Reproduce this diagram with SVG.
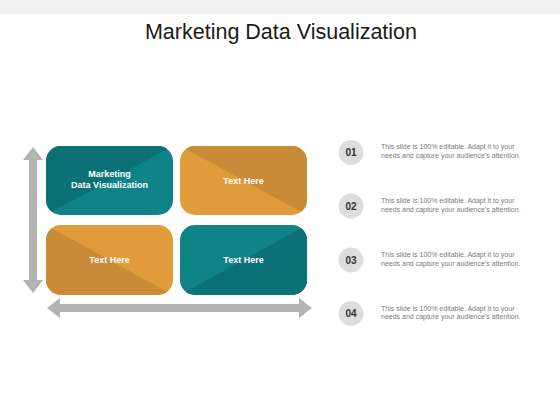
<svg xmlns="http://www.w3.org/2000/svg" width="560" height="420" viewBox="0 0 560 420">
<style>
.title{font-family:"Liberation Sans",Arial,sans-serif;font-size:21.5px;fill:#1a1a1a;text-anchor:middle}
.lbl{font-family:"Liberation Sans",Arial,sans-serif;font-size:9px;font-weight:bold;fill:#ffffff;text-anchor:middle}
.num{font-family:"Liberation Sans",Arial,sans-serif;font-size:10px;font-weight:bold;fill:#333333;text-anchor:middle}
.desc{font-family:"Liberation Sans",Arial,sans-serif;font-size:7px;fill:#7a7a7a}
.circ{fill:#dddddd}
.arrow{fill:#b3b3b3}
</style>
<defs>
<clipPath id="c1"><rect x="46" y="146" width="127" height="69" rx="15"/></clipPath>
<clipPath id="c2"><rect x="180" y="146" width="127" height="69" rx="15"/></clipPath>
<clipPath id="c3"><rect x="46" y="225" width="127" height="70" rx="15"/></clipPath>
<clipPath id="c4"><rect x="180" y="225" width="127" height="70" rx="15"/></clipPath>
</defs>
<rect x="0" y="0" width="560" height="14" fill="#f0f0f0"/>
<text class="title" x="281" y="39">Marketing Data Visualization</text>
<g id="connectors">
<polygon class="arrow" points="33,147 43,160 37,160 37,280 43,280 33,293 23,280 29,280 29,160 23,160"/>
<polygon class="arrow" points="47,308 60,298 60,304 299,304 299,298 312,308 299,318 299,312 60,312 60,318"/>
</g>
<g id="node1">
<g clip-path="url(#c1)">
<rect x="46" y="146" width="127" height="69" fill="#0f8388"/>
<polygon points="46,146 173,146 46,215" fill="#0b7177"/>
</g>
<text class="lbl" x="109.5" y="177">Marketing</text>
<text class="lbl" x="109.5" y="188">Data Visualization</text>
</g>
<g id="node2">
<g clip-path="url(#c2)">
<rect x="180" y="146" width="127" height="69" fill="#e09c3a"/>
<polygon points="180,146 307,146 307,215" fill="#c98b37"/>
</g>
<text class="lbl" x="243.5" y="184">Text Here</text>
</g>
<g id="node3">
<g clip-path="url(#c3)">
<rect x="46" y="225" width="127" height="70" fill="#e09c3a"/>
<polygon points="46,225 173,295 46,295" fill="#c98b37"/>
</g>
<text class="lbl" x="109.5" y="263">Text Here</text>
</g>
<g id="node4">
<g clip-path="url(#c4)">
<rect x="180" y="225" width="127" height="70" fill="#0f8388"/>
<polygon points="307,225 307,295 180,295" fill="#0b7177"/>
</g>
<text class="lbl" x="243.5" y="263">Text Here</text>
</g>
<g id="item1">
<circle class="circ" cx="351" cy="152.5" r="12.5"/>
<text class="num" x="351" y="156">01</text>
<text class="desc" x="381" y="149">This slide is 100% editable. Adapt it to your</text>
<text class="desc" x="381" y="157.5">needs and capture your audience’s attention.</text>
</g>
<g id="item2">
<circle class="circ" cx="351" cy="206" r="12.5"/>
<text class="num" x="351" y="209.5">02</text>
<text class="desc" x="381" y="203">This slide is 100% editable. Adapt it to your</text>
<text class="desc" x="381" y="211.5">needs and capture your audience’s attention.</text>
</g>
<g id="item3">
<circle class="circ" cx="351" cy="260" r="12.5"/>
<text class="num" x="351" y="263.5">03</text>
<text class="desc" x="381" y="257">This slide is 100% editable. Adapt it to your</text>
<text class="desc" x="381" y="265.5">needs and capture your audience’s attention.</text>
</g>
<g id="item4">
<circle class="circ" cx="351" cy="313.5" r="12.5"/>
<text class="num" x="351" y="317">04</text>
<text class="desc" x="381" y="310.5">This slide is 100% editable. Adapt it to your</text>
<text class="desc" x="381" y="319">needs and capture your audience’s attention.</text>
</g>
</svg>
